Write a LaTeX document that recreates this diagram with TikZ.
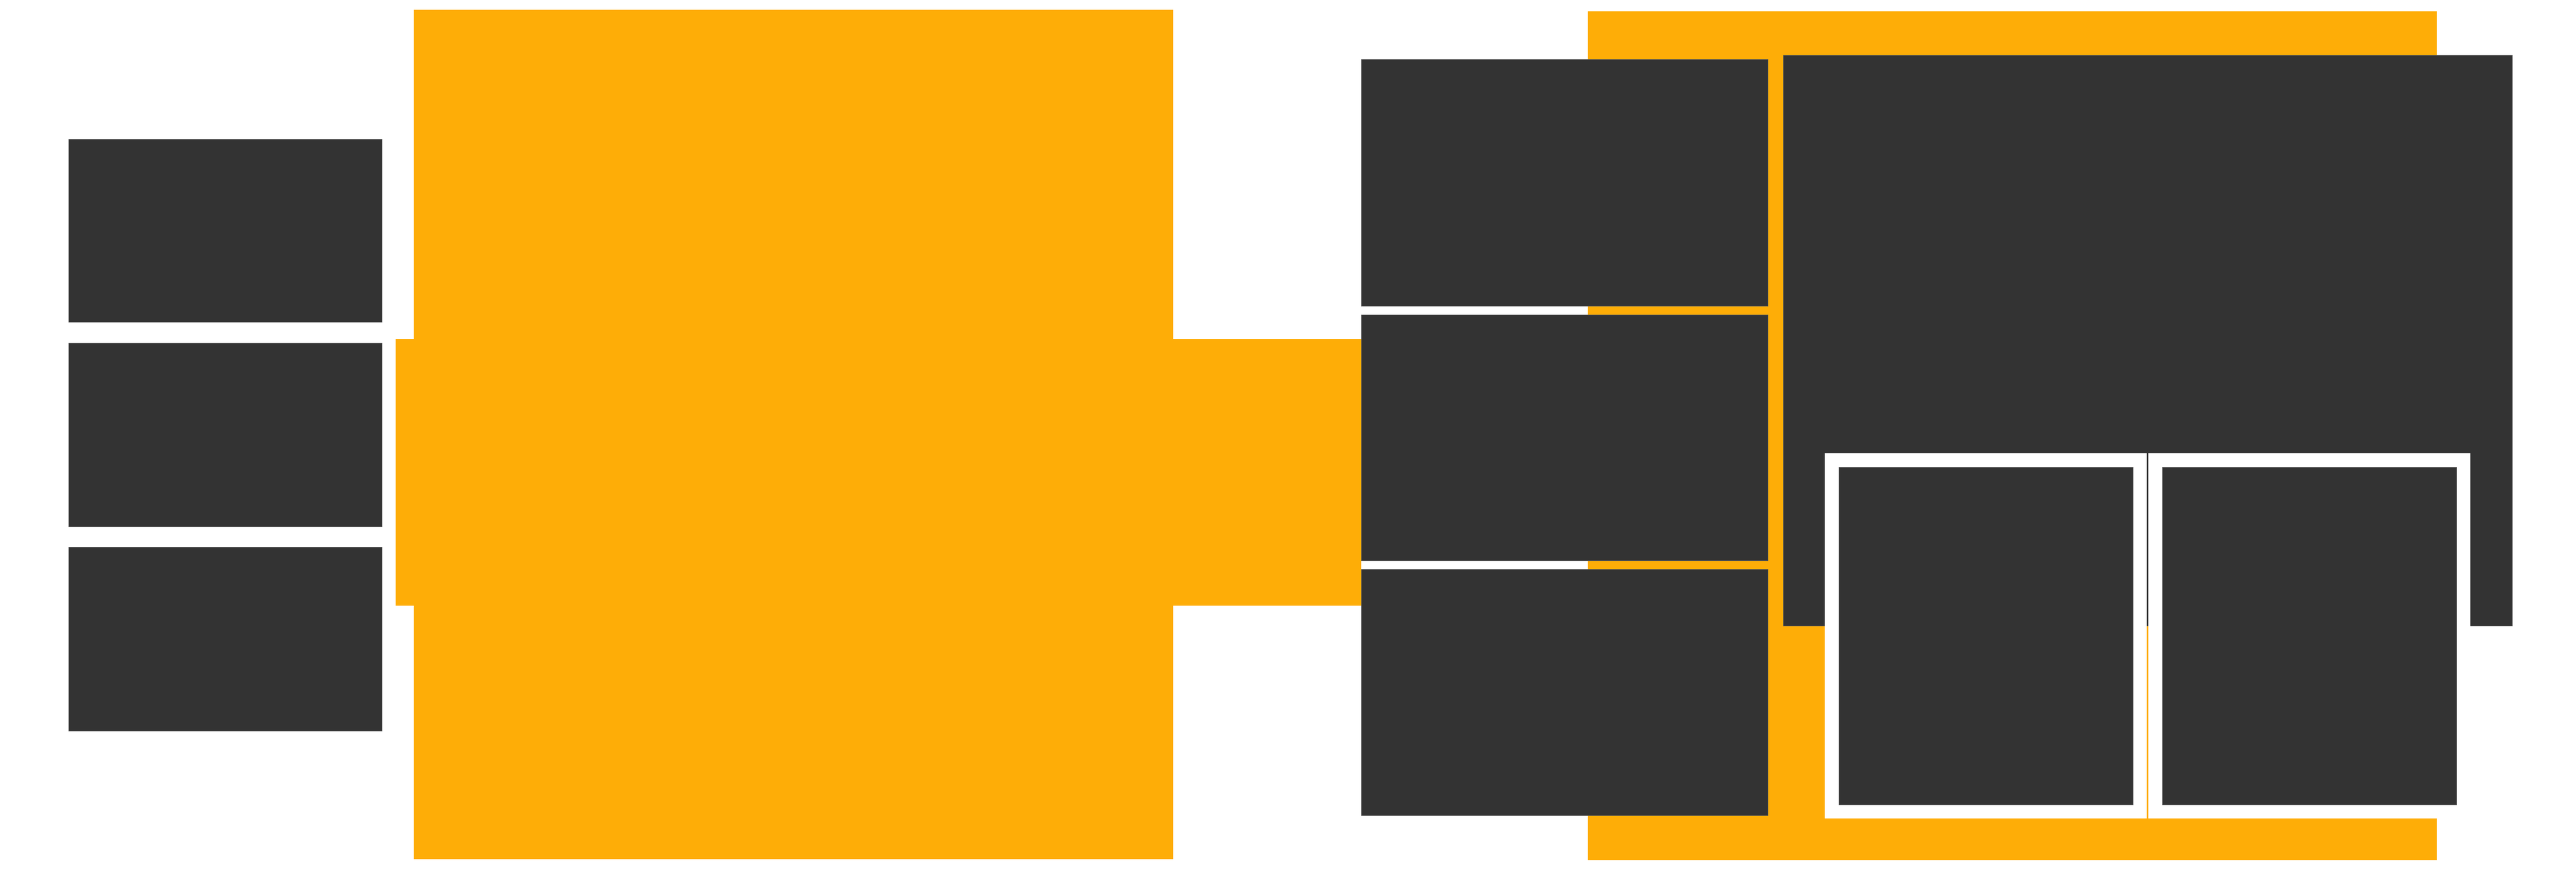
\documentclass[tikz,border=0pt]{standalone}
\usepackage{tikz}
\definecolor{orng}{HTML}{FEAD07}
\definecolor{drk}{HTML}{333333}
\definecolor{edge}{HTML}{5A5A5A}
\tikzset{
  base/.style={rectangle, inner sep=0pt, outer sep=0pt, anchor=north west},
  orangebox/.style={base, fill=orng, draw=none},
  darkbox/.style={base, fill=drk, draw=edge, line width=0.25pt},
  framebox/.style={base, fill=white, draw=none},
}
\newcommand{\rbox}[6]{%
  \node[#2, minimum width={0.01cm*(#5-#3)}, minimum height={0.01cm*(#6-#4)}] (#1) at ({0.01*#3},{-0.01*#4}) {};}
\begin{document}
\begin{tikzpicture}
\useasboundingbox[fill=white] (0,0) rectangle (70,-23.69);
% left orange block and band
\rbox{obig}{orangebox}{1125}{27}{3189}{2337}
\rbox{oband}{orangebox}{1076}{922}{3701}{1647}
% left dark boxes
\rbox{l1}{darkbox}{187}{378}{1039}{876}
\rbox{l2}{darkbox}{187}{934}{1039}{1432}
\rbox{l3}{darkbox}{187}{1488}{1039}{1988}
% right orange block
\rbox{oright}{orangebox}{4317}{31}{6626}{2340}
% middle dark boxes
\rbox{m1}{darkbox}{3701}{162}{4806}{832}
\rbox{m2}{darkbox}{3701}{856}{4806}{1524}
\rbox{m3}{darkbox}{3701}{1548}{4806}{2218}
% big right dark box
\rbox{big}{darkbox}{4849}{150}{6830}{1703}
% white frames
\rbox{f1}{framebox}{4962}{1233}{5837}{2226}
\rbox{f2}{framebox}{5841}{1233}{6717}{2226}
% inner dark boxes
\rbox{i1}{darkbox}{5000}{1271}{5799}{2188}
\rbox{i2}{darkbox}{5879}{1271}{6679}{2188}
\end{tikzpicture}
\end{document}
